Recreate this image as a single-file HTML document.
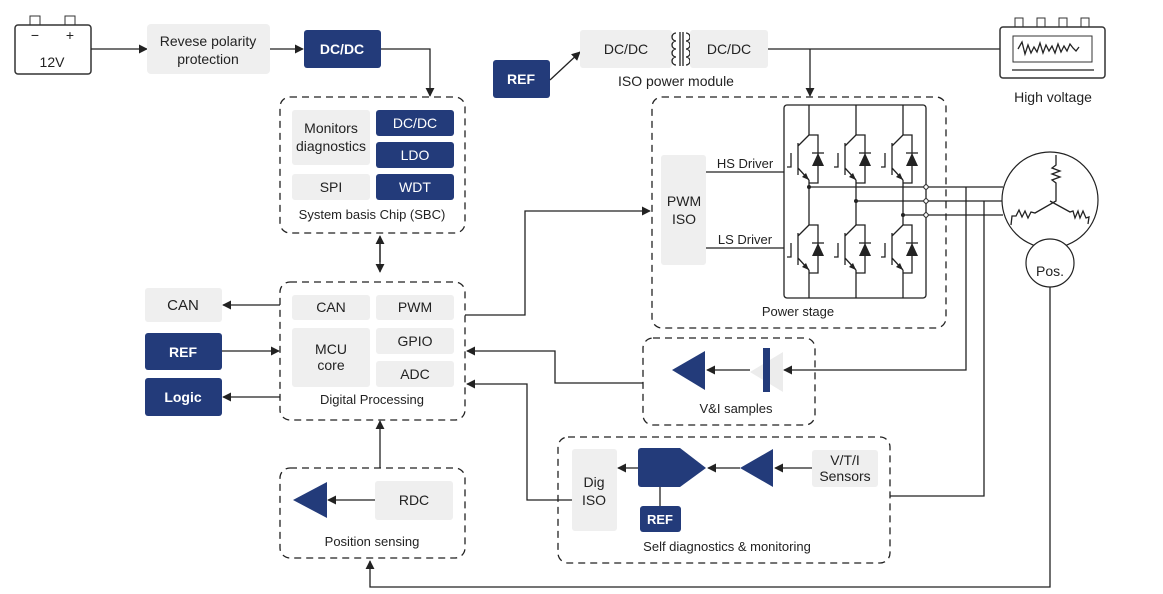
<!DOCTYPE html>
<html><head><meta charset="utf-8"><style>
html,body{margin:0;padding:0;background:#fff}
svg{display:block;font-family:"Liberation Sans",sans-serif}
.t{font-size:14px;fill:#222;text-anchor:middle}
.w{font-size:14px;fill:#fff;text-anchor:middle;font-weight:bold}
.g{fill:#efefef}
.n{fill:#233b7a}
.d{fill:none;stroke:#222;stroke-width:1.3;stroke-dasharray:7,5}
.l{fill:none;stroke:#222;stroke-width:1.3}
</style></head><body>
<svg width="1163" height="594" viewBox="0 0 1163 594">
<defs>
<marker id="a" viewBox="0 0 10 10" refX="9" refY="5" markerWidth="9" markerHeight="9" markerUnits="userSpaceOnUse" orient="auto"><path d="M0,0L10,5L0,10z" fill="#222"/></marker>
<g id="ig">
<path class="l" d="M0,0H9V48H0M0,0L-11,11M-11,8V40M-11,33L0,45M-18,18V32H-22"/>
<path d="M9,18L3,31H15z" fill="#222"/><path class="l" d="M3,18H15"/>
<path d="M0,45L-7,42L-3,38z" fill="#222"/>
</g>
</defs>
<!-- battery -->
<rect x="15" y="25" width="76" height="49" rx="3" fill="#fff" stroke="#333" stroke-width="1.5"/>
<rect x="30" y="16" width="10" height="9" fill="none" stroke="#333"/>
<rect x="65" y="16" width="10" height="9" fill="none" stroke="#333"/>
<text x="35" y="40" class="t">−</text><text x="70" y="40" class="t">+</text>
<text x="52" y="67" class="t">12V</text>
<path class="l" d="M91,49H147" marker-end="url(#a)"/>
<rect x="147" y="24" width="123" height="50" rx="4" class="g"/>
<text x="208" y="46" class="t">Revese polarity</text><text x="208" y="64" class="t">protection</text>
<path class="l" d="M270,49H303" marker-end="url(#a)"/>
<rect x="304" y="30" width="77" height="38" rx="3" class="n"/><text x="342" y="54" class="w">DC/DC</text>
<path class="l" d="M381,49H430V96" marker-end="url(#a)"/>
<rect x="493" y="60" width="57" height="38" rx="3" class="n"/><text x="521" y="84" class="w">REF</text>
<path class="l" d="M550,80L580,52" marker-end="url(#a)"/>
<rect x="580" y="30" width="92" height="38" rx="3" class="g"/><text x="626" y="54" class="t">DC/DC</text>
<path class="l" d="M676,33a4,4 0 0 0 0,8a4,4 0 0 0 0,8a4,4 0 0 0 0,8a4,4 0 0 0 0,8M686,33a4,4 0 0 1 0,8a4,4 0 0 1 0,8a4,4 0 0 1 0,8a4,4 0 0 1 0,8M680,32V66M683,32V66"/>
<rect x="690" y="30" width="78" height="38" rx="3" class="g"/><text x="729" y="54" class="t">DC/DC</text>
<text x="676" y="86" class="t">ISO power module</text>
<path class="l" d="M768,49H1000"/><path class="l" d="M810,49V96" marker-end="url(#a)"/>
<!-- high voltage -->
<rect x="1000" y="27" width="105" height="51" rx="3" fill="#fff" stroke="#333" stroke-width="1.5"/>
<rect x="1013" y="36" width="79" height="26" fill="none" stroke="#333"/>
<path class="l" d="M1018,49l4,-7l3,12l3,-9l3,8l3,-6l3,5l3,-9l3,10l3,-8l3,6l3,-5l3,7l3,-9l3,8l3,-6l3,5l3,-7l3,4l3,3l3,-4"/>
<path class="l" d="M1012,70H1094"/>
<rect x="1015" y="18" width="8" height="9" fill="none" stroke="#333"/><rect x="1037" y="18" width="8" height="9" fill="none" stroke="#333"/><rect x="1059" y="18" width="8" height="9" fill="none" stroke="#333"/><rect x="1081" y="18" width="8" height="9" fill="none" stroke="#333"/>
<text x="1053" y="102" class="t">High voltage</text>
<!-- SBC -->
<rect x="280" y="97" width="185" height="136" rx="10" class="d"/>
<rect x="292" y="110" width="78" height="55" rx="3" class="g"/><text x="331" y="133" class="t">Monitors</text><text x="331" y="151" class="t">diagnostics</text>
<rect x="376" y="110" width="78" height="26" rx="3" class="n"/><text x="415" y="128" class="w" style="font-weight:normal">DC/DC</text>
<rect x="376" y="142" width="78" height="26" rx="3" class="n"/><text x="415" y="160" class="w" style="font-weight:normal">LDO</text>
<rect x="292" y="174" width="78" height="26" rx="3" class="g"/><text x="331" y="192" class="t">SPI</text>
<rect x="376" y="174" width="78" height="26" rx="3" class="n"/><text x="415" y="192" class="w" style="font-weight:normal">WDT</text>
<text x="372" y="219" class="t" style="font-size:13px">System basis Chip (SBC)</text>
<path class="l" d="M380,244V272" marker-end="url(#a)"/>
<path class="l" d="M380,262V236" marker-end="url(#a)"/>
<!-- Digital -->
<rect x="280" y="282" width="185" height="138" rx="10" class="d"/>
<rect x="292" y="295" width="78" height="25" rx="3" class="g"/><text x="331" y="312" class="t">CAN</text>
<rect x="376" y="295" width="78" height="25" rx="3" class="g"/><text x="415" y="312" class="t">PWM</text>
<rect x="292" y="328" width="78" height="59" rx="3" class="g"/><text x="331" y="354" class="t">MCU</text><text x="331" y="370" class="t">core</text>
<rect x="376" y="328" width="78" height="26" rx="3" class="g"/><text x="415" y="346" class="t">GPIO</text>
<rect x="376" y="361" width="78" height="26" rx="3" class="g"/><text x="415" y="379" class="t">ADC</text>
<text x="372" y="404" class="t" style="font-size:13px">Digital Processing</text>
<rect x="145" y="288" width="77" height="34" rx="3" class="g"/><text x="183" y="310" class="t" style="font-size:15px">CAN</text>
<path class="l" d="M280,305H223" marker-end="url(#a)"/>
<rect x="145" y="333" width="77" height="37" rx="3" class="n"/><text x="183" y="357" class="w">REF</text>
<path class="l" d="M222,351H279" marker-end="url(#a)"/>
<rect x="145" y="378" width="77" height="38" rx="3" class="n"/><text x="183" y="402" class="w">Logic</text>
<path class="l" d="M280,397H223" marker-end="url(#a)"/>
<path class="l" d="M380,468V421" marker-end="url(#a)"/>
<!-- Position sensing -->
<rect x="280" y="468" width="185" height="90" rx="10" class="d"/>
<path d="M293,500L327,482V518z" class="n"/>
<path class="l" d="M375,500H328" marker-end="url(#a)"/>
<rect x="375" y="481" width="78" height="39" rx="3" class="g"/><text x="414" y="505" class="t">RDC</text>
<text x="372" y="546" class="t" style="font-size:13px">Position sensing</text>
<!-- PWM to power -->
<path class="l" d="M465,315H525V211H650" marker-end="url(#a)"/>
<!-- Power stage -->
<rect x="652" y="97" width="294" height="231" rx="10" class="d"/>
<rect x="661" y="155" width="45" height="110" rx="3" class="g"/><text x="684" y="206" class="t">PWM</text><text x="684" y="224" class="t">ISO</text>
<text x="745" y="168" class="t" style="font-size:13px">HS Driver</text><path class="l" d="M706,172H784"/>
<text x="745" y="244" class="t" style="font-size:13px">LS Driver</text><path class="l" d="M706,248H784"/>
<rect x="784" y="105" width="142" height="193" rx="3" class="l"/>
<path class="l" d="M809,105V135M809,180V225M809,270V298M856,105V135M856,180V225M856,270V298M903,105V135M903,180V225M903,270V298"/>
<use href="#ig" x="809" y="135"/><use href="#ig" x="856" y="135"/><use href="#ig" x="903" y="135"/>
<use href="#ig" x="809" y="225"/><use href="#ig" x="856" y="225"/><use href="#ig" x="903" y="225"/>
<path class="l" d="M809,187H1003M856,201H1003M903,215H1003"/>
<circle cx="809" cy="187" r="2" fill="#222"/><circle cx="856" cy="201" r="2" fill="#222"/><circle cx="903" cy="215" r="2" fill="#222"/>
<circle cx="926" cy="187" r="2.2" fill="#fff" stroke="#222"/><circle cx="926" cy="201" r="2.2" fill="#fff" stroke="#222"/><circle cx="926" cy="215" r="2.2" fill="#fff" stroke="#222"/>
<text x="798" y="316" class="t" style="font-size:13px">Power stage</text>
<!-- motor -->
<circle cx="1050" cy="200" r="48" fill="#fff" stroke="#222" stroke-width="1.2"/>
<path class="l" d="M1056,155V165l-4,3l8,3l-8,3l8,3l-8,3l4,3V201L1035,213l-4,-1l-3,6l-3,-7l-3,6l-3,-7l-3,6l-4,0L1011,225M1050,201L1070,212l3,-1l2,7l3,-7l2,7l3,-7l3,7l3,-1L1088,224"/>
<circle cx="1050" cy="263" r="24" fill="#fff" stroke="#222" stroke-width="1.2"/>
<text x="1050" y="276" class="t">Pos.</text>
<path class="l" d="M1050,287V587H370V561" marker-end="url(#a)"/>
<path class="l" d="M966,187V370H784" marker-end="url(#a)"/>
<path class="l" d="M984,201V496H890"/>
<!-- V&I -->
<rect x="643" y="338" width="172" height="87" rx="10" class="d"/>
<path d="M672,370L705,351V390z" class="n"/>
<path d="M750,372L783,352V392z" fill="#ececec"/>
<rect x="763" y="348" width="7" height="44" class="n"/>
<path class="l" d="M750,370H707" marker-end="url(#a)"/>
<text x="736" y="413" class="t" style="font-size:13px">V&amp;I samples</text>
<path class="l" d="M643,383H555V351H467" marker-end="url(#a)"/>
<!-- Self diag -->
<rect x="558" y="437" width="332" height="126" rx="10" class="d"/>
<rect x="572" y="449" width="45" height="82" rx="3" class="g"/><text x="594" y="487" class="t">Dig</text><text x="594" y="505" class="t">ISO</text>
<path d="M641,448H680L706,468L680,487H641a3,3 0 0 1 -3,-3V451a3,3 0 0 1 3,-3z" class="n"/>
<path d="M740,468L773,449V487z" class="n"/>
<rect x="812" y="450" width="66" height="37" rx="3" class="g"/><text x="845" y="465" class="t">V/T/I</text><text x="845" y="481" class="t">Sensors</text>
<path class="l" d="M812,468H775" marker-end="url(#a)"/><path class="l" d="M740,468H708" marker-end="url(#a)"/><path class="l" d="M638,468H618" marker-end="url(#a)"/>
<path class="l" d="M660,487V506"/>
<rect x="640" y="506" width="41" height="26" rx="3" class="n"/><text x="660" y="524" class="w" style="font-size:13px">REF</text>
<text x="727" y="551" class="t" style="font-size:13px">Self diagnostics &amp; monitoring</text>
<path class="l" d="M572,500H527V384H467" marker-end="url(#a)"/>
</svg>
</body></html>
